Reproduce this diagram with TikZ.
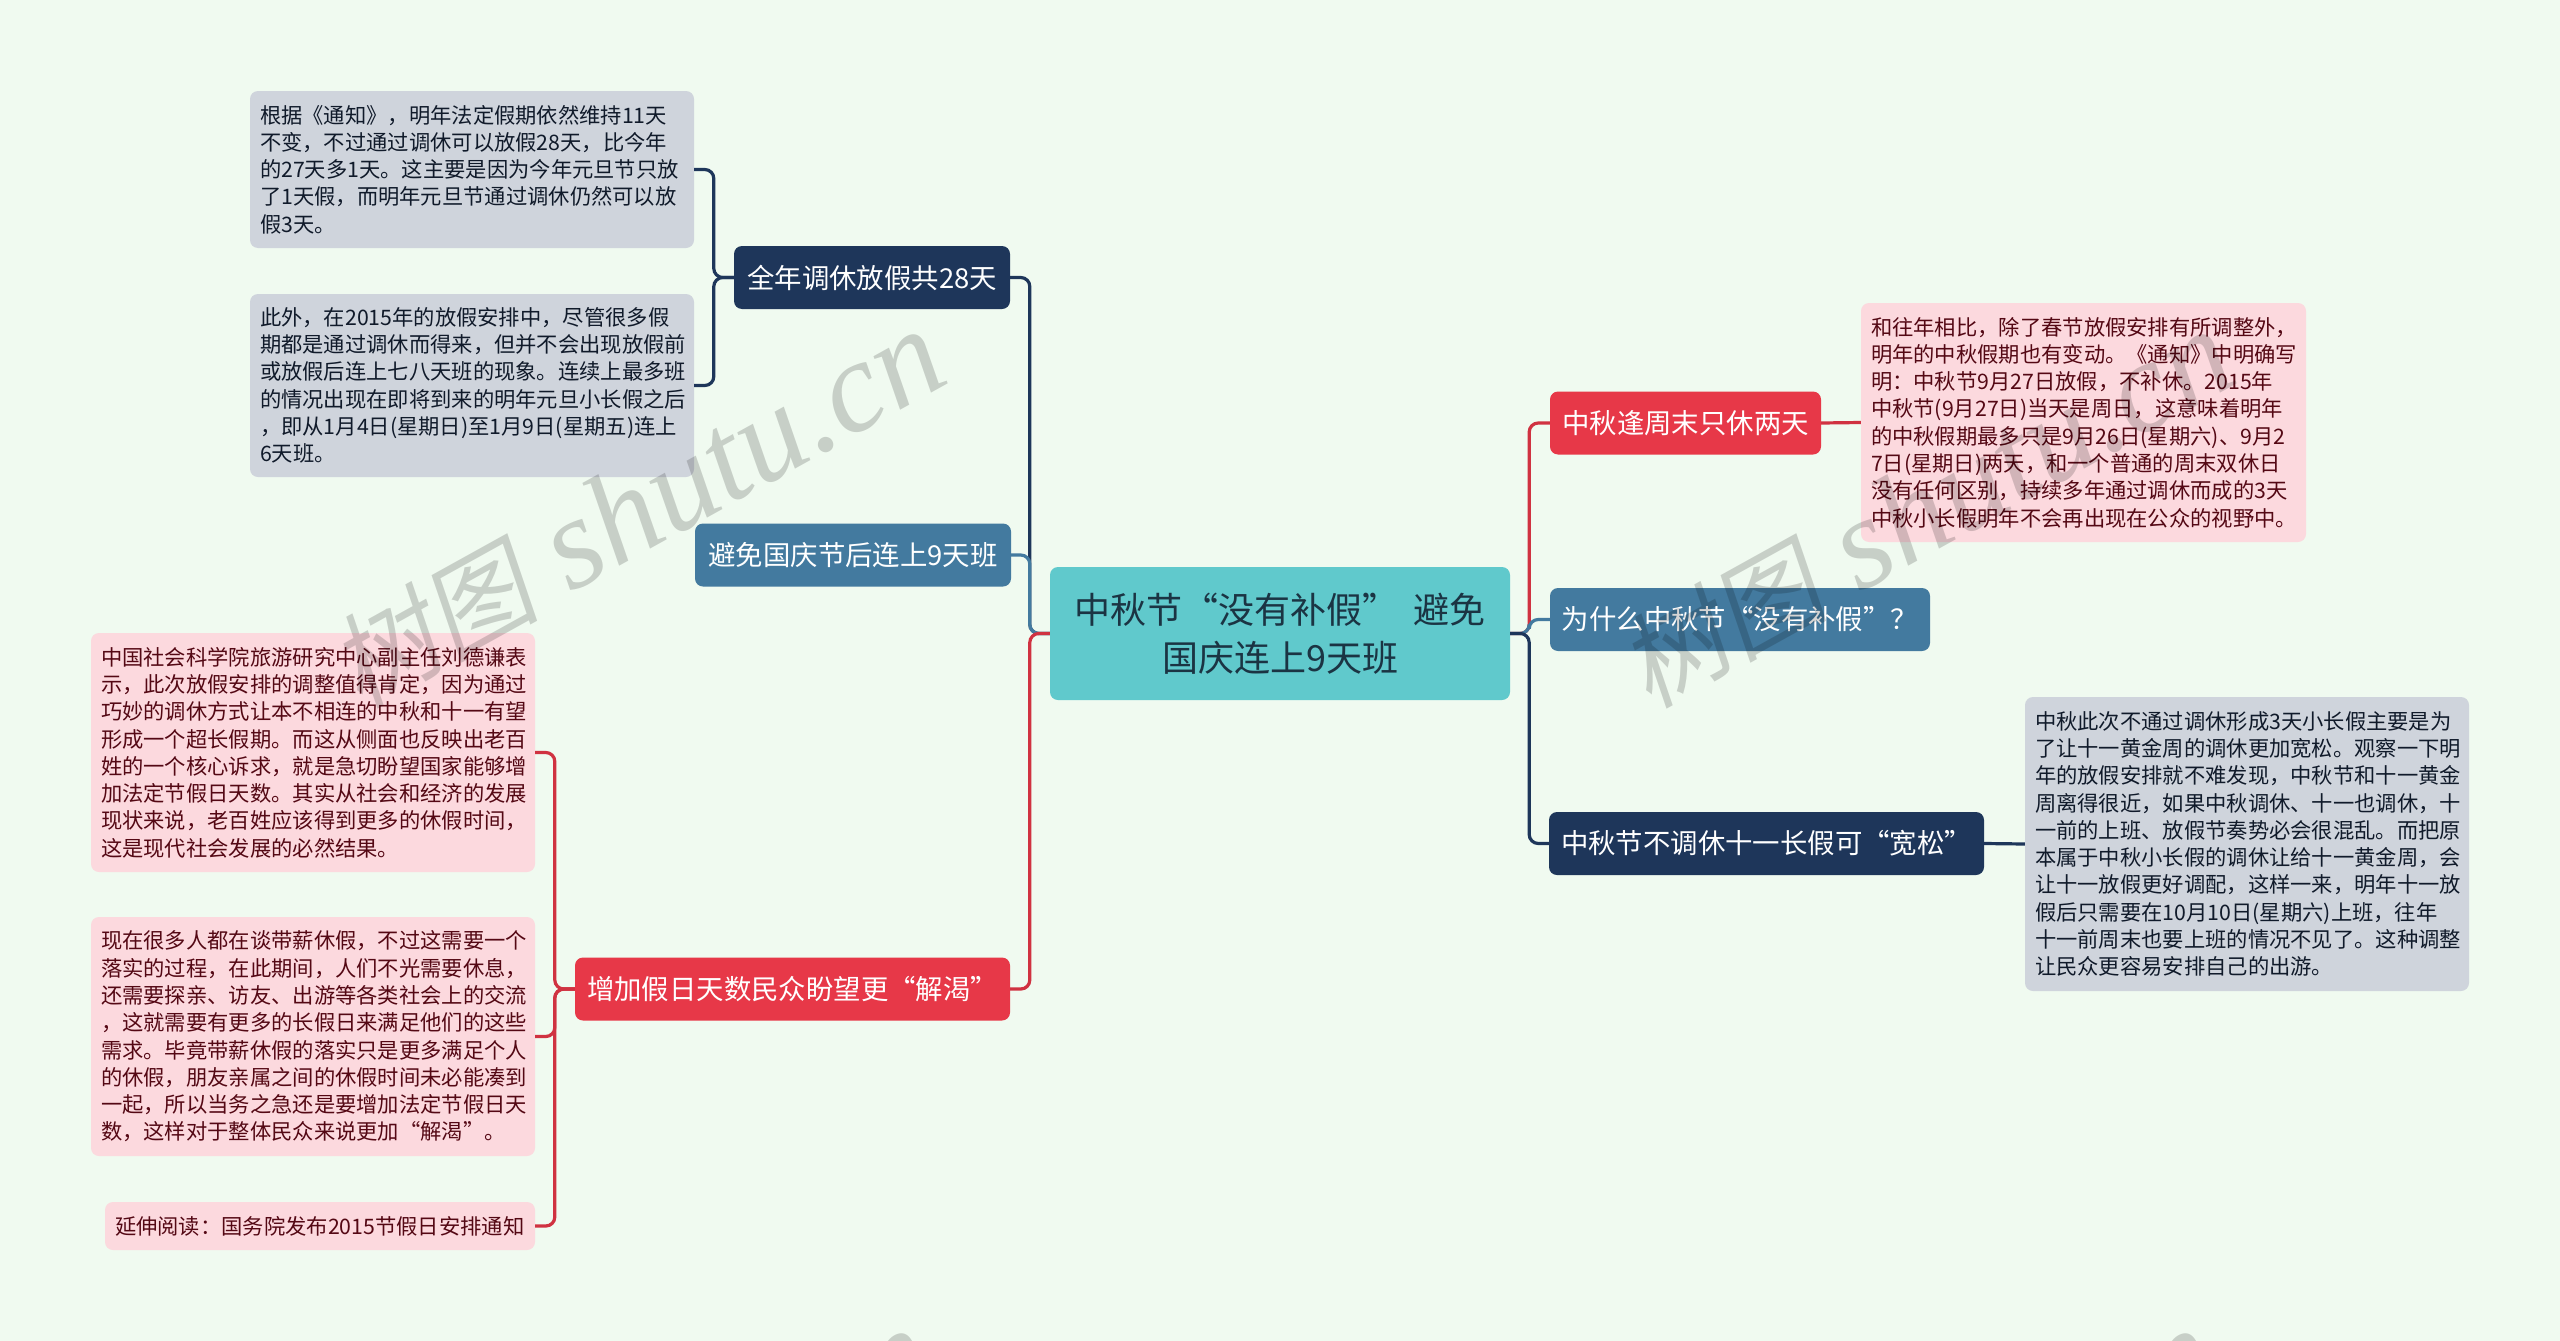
\documentclass[tikz,border=0pt]{standalone}
\usepackage{fontspec}
\usepackage{xcolor}
\setmainfont{Noto Sans CJK SC}
\newfontfamily\markcjk[FakeSlant=0.18]{Noto Sans CJK SC}
\newfontfamily\marklatin{Liberation Serif}[ItalicFont=* Italic]
\usetikzlibrary{positioning}
\definecolor{mmpaper}{RGB}{240,250,240}
\definecolor{mmteal}{RGB}{96,201,204}
\definecolor{mmnavy}{RGB}{30,54,90}
\definecolor{mmblue}{RGB}{67,122,159}
\definecolor{mmred}{RGB}{231,56,72}
\definecolor{mmpink}{RGB}{252,217,222}
\definecolor{mmgrey}{RGB}{207,212,220}
\definecolor{mmmaroon}{RGB}{84,8,20}
\definecolor{mmink}{RGB}{16,26,42}
\tikzstyle{rootbox} = [rectangle, rounded corners=8pt, minimum width=460pt, minimum height=133pt, align=center, fill=mmteal, text=black!75!mmteal!60!mmnavy, font=\fontsize{36}{48}\selectfont]
\tikzstyle{branch} = [rectangle, rounded corners=8pt, minimum height=63pt, inner sep=0pt, align=center, text=white, font=\fontsize{27.4}{34}\selectfont]
\tikzstyle{note} = [rectangle, rounded corners=8pt, inner xsep=10pt, inner ysep=0pt, align=left, font=\fontsize{21.3}{27.3}\selectfont]
\tikzstyle{rednote} = [note, fill=mmpink, text=mmmaroon]
\tikzstyle{greynote} = [note, fill=mmgrey, text=mmink]
\tikzstyle{link} = [line width=3.2pt, rounded corners=9pt]
\begin{document}
\begin{tikzpicture}[x=1pt,y=-1pt]
\useasboundingbox[fill=mmpaper] (0,0) rectangle (2560,1341);
% Root and branches
\node (root) [rootbox] at (1280,633.5) {中秋节“没有补假”\, 避免\\国庆连上9天班};
\node (fullyear) [branch, minimum width=276pt, fill=mmnavy] at (872,277.5) {全年调休放假共28天};
\node (evade) [branch, minimum width=316pt, fill=mmblue] at (853,555) {避免国庆节后连上9天班};
\node (demand) [branch, minimum width=435pt, fill=mmred] at (792.5,989) {增加假日天数民众盼望更“解渴”};
\node (weekend) [branch, minimum width=271pt, fill=mmred] at (1685.5,423) {中秋逢周末只休两天};
\node (whynot) [branch, minimum width=380pt, fill=mmblue] at (1740,619.5) {为什么中秋节“没有补假”？};
\node (loose) [branch, minimum width=435pt, fill=mmnavy] at (1766.5,843.5) {中秋节不调休十一长假可“宽松”};

% Notes
\node (yeara) [greynote, text width=424pt, minimum height=157pt] at (472,169.5) {根据《通知》，明年法定假期依然维持11天\\不变，不过通过调休可以放假28天，比今年\\的27天多1天。这主要是因为今年元旦节只放\\了1天假，而明年元旦节通过调休仍然可以放\\假3天。};
\node (yearb) [greynote, text width=424pt, minimum height=183pt] at (472,385.5) {此外，在2015年的放假安排中，尽管很多假\\期都是通过调休而得来，但并不会出现放假前\\或放假后连上七八天班的现象。连续上最多班\\的情况出现在即将到来的明年元旦小长假之后\\，即从1月4日(星期日)至1月9日(星期五)连上\\6天班。};
\node (demanda) [rednote, text width=424pt, minimum height=239pt] at (313,752.5) {中国社会科学院旅游研究中心副主任刘德谦表\\示，此次放假安排的调整值得肯定，因为通过\\巧妙的调休方式让本不相连的中秋和十一有望\\形成一个超长假期。而这从侧面也反映出老百\\姓的一个核心诉求，就是急切盼望国家能够增\\加法定节假日天数。其实从社会和经济的发展\\现状来说，老百姓应该得到更多的休假时间，\\这是现代社会发展的必然结果。};
\node (demandb) [rednote, text width=424pt, minimum height=239pt] at (313,1036.5) {现在很多人都在谈带薪休假，不过这需要一个\\落实的过程，在此期间，人们不光需要休息，\\还需要探亲、访友、出游等各类社会上的交流\\，这就需要有更多的长假日来满足他们的这些\\需求。毕竟带薪休假的落实只是更多满足个人\\的休假，朋友亲属之间的休假时间未必能凑到\\一起，所以当务之急还是要增加法定节假日天\\数，这样对于整体民众来说更加“解渴”。};
\node (demandc) [rednote, text width=410pt, minimum height=48pt] at (320,1226) {延伸阅读：国务院发布2015节假日安排通知};
\node (weeknote) [rednote, text width=425pt, minimum height=239pt] at (2083.5,422.5) {和往年相比，除了春节放假安排有所调整外，\\明年的中秋假期也有变动。《通知》中明确写\\明：中秋节9月27日放假，不补休。2015年\\中秋节(9月27日)当天是周日，这意味着明年\\的中秋假期最多只是9月26日(星期六)、9月2\\7日(星期日)两天，和一个普通的周末双休日\\没有任何区别，持续多年通过调休而成的3天\\中秋小长假明年不会再出现在公众的视野中。};
\node (loosenote) [greynote, text width=424pt, minimum height=294pt] at (2247,844) {中秋此次不通过调休形成3天小长假主要是为\\了让十一黄金周的调休更加宽松。观察一下明\\年的放假安排就不难发现，中秋节和十一黄金\\周离得很近，如果中秋调休、十一也调休，十\\一前的上班、放假节奏势必会很混乱。而把原\\本属于中秋小长假的调休让给十一黄金周，会\\让十一放假更好调配，这样一来，明年十一放\\假后只需要在10月10日(星期六)上班，往年\\十一前周末也要上班的情况不见了。这种调整\\让民众更容易安排自己的出游。};

% Links from the root
\draw[link, mmnavy] (root.west) -- ++(-20,0) |- (fullyear.east);
\draw[link, mmblue] (root.west) -- ++(-20,0) |- (evade.east);
\draw[link, mmred!90!black] (root.west) -- ++(-20,0) |- (demand.east);
\draw[link, mmred!90!black] (root.east) -- ++(19,0) |- (weekend.west);
\draw[link, mmblue] (root.east) -- ++(19,0) |- (whynot.west);
\draw[link, mmnavy] (root.east) -- ++(19,0) |- (loose.west);

% Links to the notes
\draw[link, mmnavy] (fullyear.west) -- ++(-20,0) |- (yeara.east);
\draw[link, mmnavy] (fullyear.west) -- ++(-20,0) |- (yearb.east);
\draw[link, mmred!90!black] (demand.west) -- ++(-20,0) |- (demanda.east);
\draw[link, mmred!90!black] (demand.west) -- ++(-20,0) |- (demandb.east);
\draw[link, mmred!90!black] (demand.west) -- ++(-20,0) |- (demandc.east);
\draw[link, mmred!90!black] (weekend.east) -- (weeknote.west);
\draw[link, mmnavy] (loose.east) -- (loosenote.west);

% Watermark
\begin{scope}
\clip (0,0) rectangle (2560,1341);
\foreach \i/\mx/\my in {1/360/710, 2/1649/710, 3/348/1709, 4/1632/1709}
  \node (mark\i) [anchor=base west, rotate=29, inner sep=0pt, text=black, text opacity=0.17] at (\mx,\my) {\markcjk\fontsize{104}{104}\selectfont 树图\hspace{33pt}\marklatin\itshape\fontsize{130}{130}\selectfont shutu.cn};
\end{scope}
\end{tikzpicture}
\end{document}
